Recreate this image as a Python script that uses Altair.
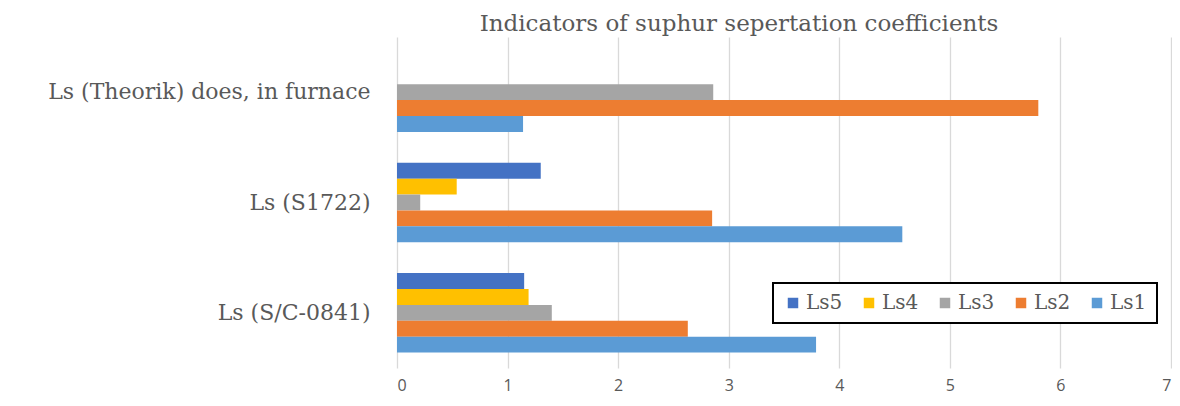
import altair as alt
import pandas as pd

categories = ["Ls (Theorik) does, in furnace", "Ls (S1722)", "Ls (S/C-0841)"]
series = ["Ls5", "Ls4", "Ls3", "Ls2", "Ls1"]
colors = ["#4472C4", "#FFC000", "#A5A5A5", "#ED7D31", "#5B9BD5"]

ls1 = [1.14, 4.57, 3.79]
ls2 = [5.80, 2.85, 2.63]
ls3 = [2.86, 0.21, 1.40]
ls4 = [None, 0.54, 1.19]
ls5 = [None, 1.30, 1.15]

values = {"Ls1": ls1, "Ls2": ls2, "Ls3": ls3, "Ls4": ls4, "Ls5": ls5}
rows = []
for s in series:
    for c, v in zip(categories, values[s]):
        if v is not None:
            rows.append({"category": c, "series": s, "value": v})
df = pd.DataFrame(rows)

serif = "DejaVu Serif"
sans = "Open Sans"

chart = alt.Chart(df).mark_bar().encode(
    y=alt.Y("category:N", sort=categories,
            scale=alt.Scale(paddingInner=0.28, paddingOuter=0.14),
            axis=alt.Axis(title=None, domain=False, ticks=False, labelPadding=27,
                          labelFont=serif, labelFontSize=22, labelColor="#595959",
                          labelLimit=400)),
    yOffset=alt.YOffset("series:N", sort=series,
                        scale=alt.Scale(domain=series, paddingInner=0, paddingOuter=0)),
    x=alt.X("value:Q", scale=alt.Scale(domain=[0, 7], nice=False),
            axis=alt.Axis(title=None, values=list(range(8)), domain=False, ticks=False,
                          grid=True, gridColor="#D9D9D9", gridWidth=1.3,
                          labelFont=sans, labelFontSize=16, labelColor="#595959",
                          labelPadding=9)),
    color=alt.Color("series:N",
                    scale=alt.Scale(domain=series, range=colors),
                    legend=alt.Legend(title=None, orient="none", direction="horizontal",
                                      columns=5, legendX=376, legendY=246,
                                      labelFont=serif, labelFontSize=20, labelColor="#595959",
                                      symbolType="square", symbolSize=110,
                                      symbolStrokeWidth=0, columnPadding=16,
                                      labelOffset=3,
                                      strokeColor="black", padding=10,
                                      fillColor="white")),
).properties(
    width=774,
    height=331,
    title=alt.TitleParams("Indicators of suphur sepertation coefficients",
                          font=serif, fontSize=23, fontWeight="normal",
                          color="#595959", anchor="middle", dx=-45, offset=1),
    autosize=alt.AutoSizeParams(type="none"),
    padding={"left": 389, "top": 29, "right": 1, "bottom": 30},
).configure_view(stroke=None).configure_legend(strokeWidth=2)

chart.save("out.html", embed_options={"renderer": "svg", "actions": False})
